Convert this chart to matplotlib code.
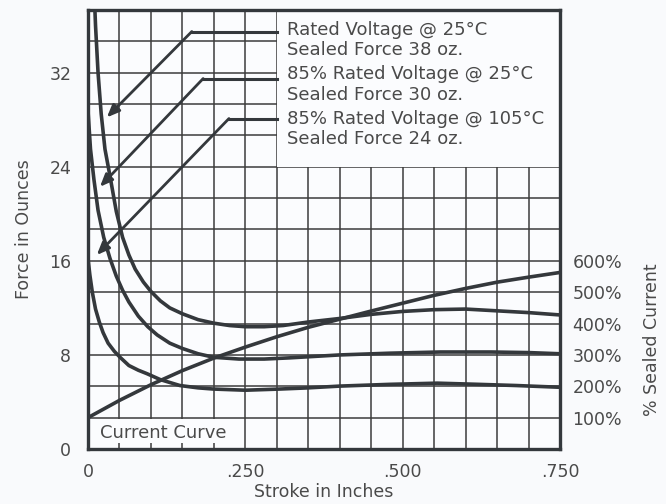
import numpy as np
import matplotlib.pyplot as plt
from matplotlib.patches import Rectangle
from matplotlib.ticker import MultipleLocator

# force curves (stroke in inches, force in ounces)
stroke_a = [0.009, 0.012, 0.016, 0.021, 0.027, 0.035, 0.045, 0.055, 0.065, 0.075, 0.088,
            0.100, 0.115, 0.130, 0.150, 0.175, 0.200, 0.225, 0.250, 0.280, 0.310, 0.350,
            0.400, 0.450, 0.500, 0.550, 0.600, 0.650, 0.700, 0.750]
force_a = [40.0, 36.0, 32.0, 28.5, 25.5, 23.2, 20.2, 18.0, 16.5, 15.3, 14.2,
           13.4, 12.6, 12.0, 11.5, 11.0, 10.7, 10.5, 10.4, 10.4, 10.5, 10.8,
           11.1, 11.45, 11.7, 11.85, 11.9, 11.75, 11.6, 11.4]

stroke_b = [0.0, 0.004, 0.0095, 0.016, 0.025, 0.035, 0.045, 0.055, 0.065, 0.080, 0.095,
            0.110, 0.130, 0.150, 0.175, 0.200, 0.240, 0.280, 0.320, 0.400, 0.480, 0.560,
            0.640, 0.700, 0.750]
force_b = [28.8, 25.5, 22.9, 20.3, 18.0, 16.2, 14.7, 13.5, 12.5, 11.3, 10.4,
           9.7, 9.0, 8.55, 8.1, 7.8, 7.65, 7.65, 7.75, 8.0, 8.15, 8.25,
           8.25, 8.2, 8.1]

stroke_c = [0.0, 0.003, 0.007, 0.012, 0.018, 0.024, 0.032, 0.042, 0.051, 0.065, 0.080,
            0.094, 0.115, 0.146, 0.175, 0.199, 0.250, 0.305, 0.350, 0.400, 0.480, 0.555,
            0.620, 0.680, 0.750]
force_c = [16.2, 14.8, 13.3, 11.9, 10.8, 9.9, 9.0, 8.3, 7.8, 7.1, 6.7,
           6.4, 5.9, 5.4, 5.2, 5.1, 5.0, 5.1, 5.2, 5.35, 5.5, 5.6,
           5.5, 5.4, 5.25]

# current curve (% sealed current)
stroke_i = [0.0, 0.05, 0.10, 0.15, 0.20, 0.25, 0.30, 0.35, 0.40, 0.45, 0.50, 0.55,
            0.60, 0.65, 0.70, 0.75]
current_pct = [100, 155, 205, 250, 290, 325, 358, 388, 414, 440, 465, 490,
               512, 532, 548, 563]

labels = ["Rated Voltage @ 25\u00b0C\nSealed Force 38 oz.",
          "85% Rated Voltage @ 25\u00b0C\nSealed Force 30 oz.",
          "85% Rated Voltage @ 105\u00b0C\nSealed Force 24 oz."]
label_y = [34.75, 31.0, 27.2]
# leader lines: start of horizontal part, its height, arrow tip
leader_x0 = [0.165, 0.183, 0.224]
leader_y = [35.5, 31.5, 28.1]
tip_x = [0.030, 0.019, 0.014]
tip_y = [28.2, 22.3, 16.5]

x_ticks = [0, 0.25, 0.5, 0.75]
x_ticklabels = ['0', '.250', '.500', '.750']
y_ticks = [0, 8, 16, 24, 32]
pct_ticks = [100, 200, 300, 400, 500, 600]

ink = '#34383c'
txt = '#4a4a4a'
bg = '#fbfcfe'
plt.rcParams['font.family'] = 'DejaVu Sans'
plt.rcParams['font.size'] = 12.5

fig = plt.figure(figsize=(6.66, 5.04), dpi=100)
fig.patch.set_facecolor('#f9fafc')
ax = fig.add_axes([0.1321, 0.1091, 0.7087, 0.8711])
ax.set_facecolor(bg)
ymax = 14 * 8 / 3
ax.set_xlim(0, 0.75)
ax.set_ylim(0, ymax)

ax.xaxis.set_minor_locator(MultipleLocator(0.05))
ax.yaxis.set_minor_locator(MultipleLocator(8 / 3))
ax.set_xticks(x_ticks)
ax.set_xticklabels(x_ticklabels)
ax.set_yticks(y_ticks)
ax.grid(True, which='both', color='#3c3c3c', lw=1.1)
ax.set_axisbelow(True)
ax.tick_params(which='both', length=0, colors=txt)
ax.tick_params(axis='x', pad=10)
ax.tick_params(axis='y', pad=12)

# white areas over the grid
ax.add_patch(Rectangle((0.30, 24), 0.45, ymax - 24, facecolor=bg,
                       edgecolor='none', zorder=1))
ax.add_patch(Rectangle((0.006, 0.5), 0.228, 2.05, facecolor=bg,
                       edgecolor='none', zorder=1))

for sx, fy in [(stroke_a, force_a), (stroke_b, force_b), (stroke_c, force_c)]:
    ax.plot(sx, fy, color=ink, lw=2.6, zorder=3, solid_joinstyle='round')

for i in range(3):
    ax.plot([leader_x0[i], 0.30], [leader_y[i], leader_y[i]], color=ink, lw=2.2, zorder=3)
    ax.annotate('', xy=(tip_x[i], tip_y[i]), xytext=(leader_x0[i], leader_y[i]),
                arrowprops=dict(arrowstyle='-|>,head_length=0.6,head_width=0.25',
                                color=ink, lw=2.0, shrinkA=0, shrinkB=0), zorder=3)
    ax.text(0.316, label_y[i], labels[i], color=txt, va='center', ha='left',
            fontsize=13, linespacing=1.15, zorder=4)

ax.text(0.019, 1.4, 'Current Curve', color=txt, va='center', ha='left', fontsize=13, zorder=4)

for s in ax.spines.values():
    s.set_linewidth(2.4)
    s.set_color(ink)

ax.set_xlabel('Stroke in Inches', color=txt)
ax.set_ylabel('Force in Ounces', color=txt)
ax.xaxis.set_label_coords(0.5, -0.077)
ax.yaxis.set_label_coords(-0.117, 0.5)

ax2 = ax.twinx()
ax2.set_ylim(0, 1400)
ax2.set_yticks(pct_ticks)
ax2.set_yticklabels([f'{p}%' for p in pct_ticks])
ax2.tick_params(length=0, pad=9, colors=txt)
ax2.plot(stroke_i, current_pct, color=ink, lw=2.6, zorder=3, solid_joinstyle='round')
for s in ax2.spines.values():
    s.set_visible(False)
ax2.set_ylabel('% Sealed Current', color=txt)
ax2.yaxis.set_label_coords(1.175, 0.25)

fig.savefig('out.png', dpi=100, facecolor=fig.get_facecolor())
